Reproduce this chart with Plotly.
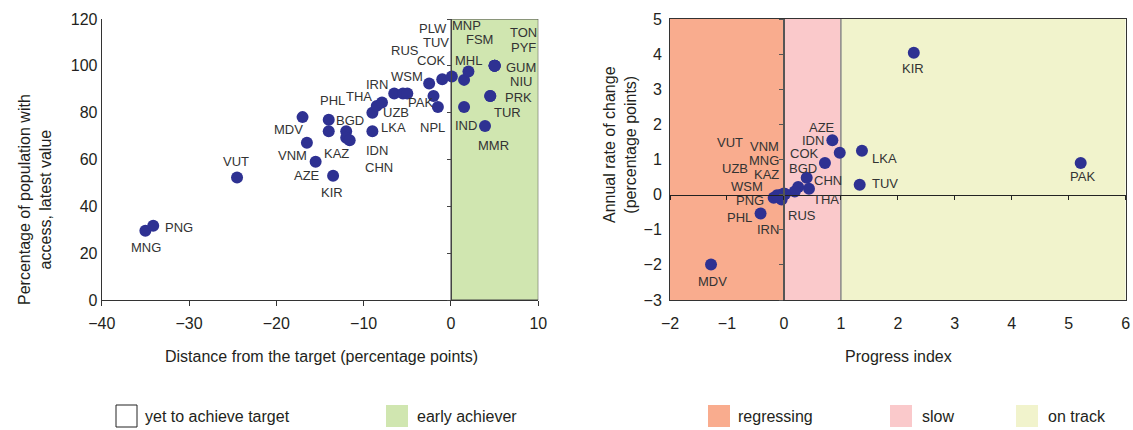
import plotly.graph_objects as go

# ---------------- data ----------------
left_codes = ["MNG", "PNG", "VUT", "KIR", "AZE", "VNM", "MDV", "PHL", "KAZ", "BGD", "IDN", "CHN",
              "LKA", "UZB", "THA", "IRN", "RUS", "TUV", "WSM", "COK", "PAK", "NPL", "PLW", "MNP",
              "MHL", "FSM", "IND", "MMR", "PRK", "TUR", "GUM", "TON", "PYF", "NIU"]
left_distance = [-35.0, -34.1, -24.5, -13.5, -15.5, -16.5, -17.0, -14.0, -14.0, -12.0, -12.0, -11.6,
                 -9.0, -9.0, -8.5, -7.9, -6.5, -5.5, -5.0, -2.5, -2.0, -1.5, -1.0, 0.1,
                 1.5, 2.0, 1.5, 3.9, 4.5, 4.5, 5.0, 5.0, 5.0, 5.0]
left_access = [29.6, 31.7, 52.3, 53.1, 59.0, 67.2, 78.1, 77.0, 72.1, 72.1, 69.3, 68.2,
               72.1, 80.0, 82.9, 84.3, 88.2, 88.2, 88.2, 92.5, 87.1, 82.4, 94.3, 95.4,
               94.0, 97.6, 82.4, 74.3, 87.1, 87.1, 100.0, 100.0, 100.0, 100.0]

right_codes = ["KIR", "PAK", "MDV", "AZE", "IDN", "LKA", "COK", "TUV", "BGD", "CHN", "THA", "RUS",
               "KAZ", "WSM", "PNG", "IRN", "PHL", "MNG", "VNM", "UZB", "VUT"]
right_progress = [2.28, 5.21, -1.28, 0.85, 0.98, 1.37, 0.72, 1.33, 0.40, 0.44, 0.25, 0.19,
                  0.0, -0.07, -0.18, -0.04, -0.41, 0.02, -0.05, -0.10, -0.12]
right_rate = [4.04, 0.90, -1.99, 1.55, 1.19, 1.25, 0.90, 0.28, 0.48, 0.17, 0.22, 0.09,
              0.03, -0.09, -0.09, -0.14, -0.54, 0.02, 0.0, -0.05, -0.02]

left_x_ticks = [-40, -30, -20, -10, 0, 10]
left_y_ticks = [0, 20, 40, 60, 80, 100, 120]
right_x_ticks = [-2, -1, 0, 1, 2, 3, 4, 5, 6]
right_y_ticks = [-3, -2, -1, 0, 1, 2, 3, 4, 5]

target_band = [0, 10]               # early achiever zone (distance)
zone_edges = [-2, 0, 1, 6]          # regressing | slow | on track
zone_names = ["regressing", "slow", "on track"]

# ---------------- style ----------------
FONT = "Liberation Sans, Arial, sans-serif"
TXT = "#231f20"
LBL = "#333333"
DOT = "#2e3192"
GREEN = "#d0e6b0"
ZONE_COLORS = ["#f9ac8e", "#fac9cb", "#f1f3cc"]

left_offsets = {
    "MNG": (1, -17), "PNG": (26, -2), "VUT": (-1, 16), "KIR": (-1, -17), "AZE": (-9, -14),
    "VNM": (-14, -13), "MDV": (-14, -12), "PHL": (4, 19), "KAZ": (8, -22), "BGD": (4, 11),
    "IDN": (31, -13), "CHN": (29, -27), "LKA": (21, 4), "UZB": (24, 0), "THA": (-18, 9),
    "IRN": (-5, 18), "RUS": (11, 43), "TUV": (33, 51), "WSM": (0, 17), "COK": (2, 23),
    "PAK": (-13, -6), "NPL": (-5, -20), "PLW": (-9, 51), "MNP": (15, 51), "MHL": (4, 19),
    "FSM": (11, 32), "IND": (2, -18), "MMR": (8, -19), "PRK": (28, -1), "TUR": (17, -16),
    "GUM": (26, -2), "TON": (29, 33), "PYF": (29, 18), "NIU": (26, -16),
}
right_offsets = {
    "KIR": (-1, -16), "PAK": (2, -13), "MDV": (1, -17), "AZE": (-10, 13), "IDN": (-27, 12),
    "LKA": (23, -8), "COK": (-20, 10), "TUV": (25, 1), "BGD": (-4, 9), "CHN": (19, 8),
    "THA": (28, -13), "RUS": (7, -24), "KAZ": (-17, 19), "WSM": (-33, 11), "PNG": (-24, -3),
    "IRN": (-14, -30), "PHL": (-21, -4), "MNG": (-21, 33), "VNM": (-17, 48), "UZB": (-43, 28),
    "VUT": (-47, 53),
}

W, H = 1133, 430
MT, MB = 19, 130
PH = H - MT - MB
LD = [101.7 / W, 538.3 / W]
RD = [670 / W, 1125.7 / W]


def py(pix):
    return (H - MB - pix) / PH


fig = go.Figure()

marker = dict(color=DOT, size=12, line=dict(width=0))
fig.add_trace(go.Scatter(x=left_distance, y=left_access, mode="markers", marker=marker,
                         xaxis="x", yaxis="y", hoverinfo="text", text=left_codes, showlegend=False))
fig.add_trace(go.Scatter(x=left_distance, y=left_access, mode="markers",
                         marker=dict(opacity=0), xaxis="x", yaxis="y3", hoverinfo="skip", showlegend=False))
fig.add_trace(go.Scatter(x=right_progress, y=right_rate, mode="markers", marker=marker,
                         xaxis="x2", yaxis="y2", hoverinfo="text", text=right_codes, showlegend=False))
fig.add_trace(go.Scatter(x=right_progress, y=right_rate, mode="markers",
                         marker=dict(opacity=0), xaxis="x4", yaxis="y4", hoverinfo="skip", showlegend=False))

annotations = []
for c, xv, yv in zip(left_codes, left_distance, left_access):
    dx, dy = left_offsets[c]
    annotations.append(dict(x=xv, y=yv, xref="x", yref="y", text=c, showarrow=False,
                            xanchor="center", yanchor="middle",
                            xshift=dx, yshift=dy, font=dict(size=13, color=LBL, family=FONT)))
for c, xv, yv in zip(right_codes, right_progress, right_rate):
    dx, dy = right_offsets[c]
    annotations.append(dict(x=xv, y=yv, xref="x2", yref="y2", text=c, showarrow=False,
                            xanchor="center", yanchor="middle",
                            xshift=dx, yshift=dy, font=dict(size=13, color=LBL, family=FONT)))

title_font = dict(size=16, color=TXT, family=FONT)
annotations += [
    dict(x=35 / W, y=py(200), xref="paper", yref="paper", textangle=-90, showarrow=False,
         xanchor="center", yanchor="middle",
         text="Percentage of population with<br>access, latest value", font=title_font),
    dict(x=620 / W, y=py(145), xref="paper", yref="paper", textangle=-90, showarrow=False,
         xanchor="center", yanchor="middle",
         text="Annual rate of change<br>(percentage points)", font=title_font),
    dict(x=321 / W, y=py(356), xref="paper", yref="paper", showarrow=False,
         xanchor="center", yanchor="middle",
         text="Distance from the target (percentage points)", font=title_font),
    dict(x=898 / W, y=py(356), xref="paper", yref="paper", showarrow=False,
         xanchor="center", yanchor="middle",
         text="Progress index", font=title_font),
]

shapes = [
    dict(type="rect", xref="x", yref="y", x0=target_band[0], x1=target_band[1],
         y0=left_y_ticks[0], y1=left_y_ticks[-1], fillcolor=GREEN,
         line=dict(color="#444444", width=1), layer="below"),
]
for i in range(3):
    shapes.append(dict(type="rect", xref="x2", yref="y2", x0=zone_edges[i], x1=zone_edges[i + 1],
                       y0=right_y_ticks[0], y1=right_y_ticks[-1], fillcolor=ZONE_COLORS[i],
                       line=dict(width=0), layer="below"))
shapes.append(dict(type="line", xref="x2", yref="y2", x0=zone_edges[2], x1=zone_edges[2],
                   y0=right_y_ticks[0], y1=right_y_ticks[-1], line=dict(color="#888888", width=1.5),
                   layer="below"))

# legend
legend_items = [
    ("yet to achieve target", "white", "#222222", 116, 137, 143),
    ("early achiever", GREEN, None, 386, 408, 415),
    (zone_names[0], ZONE_COLORS[0], None, 708, 730, 736),
    (zone_names[1], ZONE_COLORS[1], None, 890, 912, 920),
    (zone_names[2], ZONE_COLORS[2], None, 1016, 1038, 1046),
]
for label, fill, border, bx0, bx1, tx in legend_items:
    shapes.append(dict(type="rect", xref="paper", yref="paper", x0=bx0 / W, x1=bx1 / W,
                       y0=py(427), y1=py(405), fillcolor=fill,
                       line=dict(color=border, width=1) if border else dict(width=0)))
    annotations.append(dict(x=tx / W, y=py(416), xref="paper", yref="paper", xanchor="left",
                            yanchor="middle",
                            showarrow=False, text=label, font=dict(size=16, color=TXT, family=FONT)))

tickfont = dict(size=16, color=TXT, family=FONT)
fig.update_layout(
    width=W, height=H,
    margin=dict(l=0, r=0, t=MT, b=MB, pad=0, autoexpand=False),
    paper_bgcolor="white", plot_bgcolor="rgba(0,0,0,0)",
    showlegend=False,
    xaxis=dict(domain=LD, range=[left_x_ticks[0], left_x_ticks[-1]], tickvals=left_x_ticks,
               ticks="outside", ticklen=5, tickcolor="#333333", showline=True, linecolor="#333333",
               linewidth=1, showgrid=False, zeroline=False, tickfont=tickfont, anchor="y",
               automargin=False, ticklabelstandoff=4),
    yaxis=dict(domain=[0, 1], range=[left_y_ticks[0], left_y_ticks[-1]], tickvals=left_y_ticks,
               ticks="", showline=True, linecolor="#333333", linewidth=1, showgrid=False,
               zeroline=False, tickfont=tickfont, anchor="x", automargin=False),
    yaxis3=dict(overlaying="y", anchor="free",
                position=LD[0] + (0 - left_x_ticks[0]) / (left_x_ticks[-1] - left_x_ticks[0]) * (LD[1] - LD[0]),
                range=[left_y_ticks[0], left_y_ticks[-1]], tickvals=left_y_ticks, ticks="outside",
                ticklen=4, tickcolor="#444444", showline=True, linecolor="#444444", linewidth=1,
                showticklabels=False, showgrid=False, zeroline=False, automargin=False),
    xaxis2=dict(domain=RD, range=[right_x_ticks[0], right_x_ticks[-1]], tickvals=right_x_ticks,
                ticks="", showline=True, mirror=True, linecolor="#333333", linewidth=1,
                showgrid=False, zeroline=False, tickfont=tickfont, anchor="y2", automargin=False,
                ticklabelstandoff=9),
    yaxis2=dict(domain=[0, 1], range=[right_y_ticks[0], right_y_ticks[-1]], tickvals=right_y_ticks,
                ticks="", showline=True, mirror=True, linecolor="#333333", linewidth=1,
                showgrid=False, zeroline=False, tickfont=tickfont, anchor="x2", automargin=False,
                ticklabelstandoff=4),
    xaxis4=dict(overlaying="x2", anchor="free",
                position=(0 - right_y_ticks[0]) / (right_y_ticks[-1] - right_y_ticks[0]),
                range=[right_x_ticks[0], right_x_ticks[-1]], tickvals=right_x_ticks, ticks="outside",
                ticklen=4, tickcolor="#222222", showline=True, linecolor="#222222", linewidth=1,
                showticklabels=False, showgrid=False, zeroline=False, automargin=False),
    yaxis4=dict(overlaying="y2", anchor="free",
                position=RD[0] + (0 - right_x_ticks[0]) / (right_x_ticks[-1] - right_x_ticks[0]) * (RD[1] - RD[0]),
                range=[right_y_ticks[0], right_y_ticks[-1]], tickvals=right_y_ticks, ticks="outside",
                ticklen=4, tickcolor="#555555", showline=True, linecolor="#555555", linewidth=1.5,
                showticklabels=False, showgrid=False, zeroline=False, automargin=False),
    annotations=annotations,
    shapes=shapes,
)

fig.write_html("out.html", config={"displayModeBar": False},
               post_script="document.body.style.margin='0';")
